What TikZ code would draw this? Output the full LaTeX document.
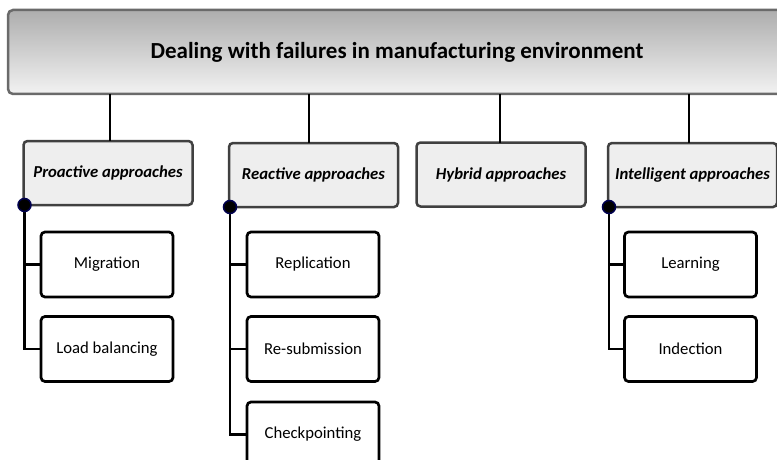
\documentclass[tikz,border=0pt]{standalone}
\usepackage{fontspec}
\setmainfont{Carlito}
\usepackage{tikz}
\usetikzlibrary{positioning,calc}

\definecolor{rimgray}{HTML}{6A6A6A}
\definecolor{catgray}{HTML}{EEEEEE}
\definecolor{catrim}{HTML}{404040}
\definecolor{dotnavy}{HTML}{000050}

\begin{document}
\begin{tikzpicture}[x={(1pt,0pt)},y={(0pt,-1pt)},
  every node/.style={outer sep=0pt, inner sep=2pt},
  rootbox/.style={draw=rimgray, line width=2.5pt, rounded corners=5pt, top color=black!32, bottom color=black!5,
    minimum width=782pt, minimum height=84pt},
  catbox/.style={draw=catrim, line width=2.5pt, rounded corners=4pt, fill=catgray,
    minimum width=169pt, minimum height=64pt, font=\bfseries\itshape\fontsize{16.7}{19}\selectfont},
  leafbox/.style={draw=black, line width=2.7pt, rounded corners=4pt, fill=white,
    minimum width=132pt, minimum height=65pt, font=\fontsize{16.7}{19}\selectfont},
  link/.style={draw=black, line width=2.8pt},
  joint/.style={circle, fill=black, draw=dotnavy, line width=1.5pt, minimum size=13pt, inner sep=0pt}]
\useasboundingbox (0,0) rectangle (777,460);
\clip (0,0) rectangle (777,460);

\node[rootbox] (root) at (399,52) {};
\node at (397,52) [font=\bfseries\fontsize{23}{26}\selectfont] (title) {Dealing with failures in manufacturing environment};

\node[catbox] (pro) at (108,173) {Proactive approaches};
\node[catbox] (rea) at (313.5,175) {Reactive approaches};
\node[catbox] (hyb) at (501,174.5) {Hybrid approaches};
\node[catbox] (int) at (692.5,175) {Intelligent approaches};

\node[leafbox] (mig) at (107,264.5) {Migration};
\node[leafbox] (lb) at (107,349) {Load balancing};
\node[leafbox] (rep) at (313,264.5) {Replication};
\node[leafbox] (res) at (313,349) {Re-submission};
\node[leafbox] (chk) at (313,434.5) {Checkpointing};
\node[leafbox] (lea) at (690.5,264.5) {Learning};
\node[leafbox] (ind) at (690.5,349) {Indection};

\draw[link] (root.south -| 110,0) -- (110,0 |- pro.north);
\draw[link] (root.south -| 309,0) -- (309,0 |- rea.north);
\draw[link] (root.south -| 500,0) -- (500,0 |- hyb.north);
\draw[link] (root.south -| 689,0) -- (689,0 |- int.north);

\draw[link] ($(pro.south west)+(1,0)$) |- (mig.west);
\draw[link] ($(pro.south west)+(1,0)$) |- (lb.west);
\draw[link] ($(rea.south west)+(1,0)$) |- (rep.west);
\draw[link] ($(rea.south west)+(1,0)$) |- (res.west);
\draw[link] ($(rea.south west)+(1,0)$) |- (chk.west);
\draw[link] ($(int.south west)+(1,0)$) |- (lea.west);
\draw[link] ($(int.south west)+(1,0)$) |- (ind.west);

\node[joint] (jpro) at ($(pro.south west)+(1,0)$) {};
\node[joint] (jrea) at ($(rea.south west)+(1,0)$) {};
\node[joint] (jint) at ($(int.south west)+(1,0)$) {};
\end{tikzpicture}
\end{document}
